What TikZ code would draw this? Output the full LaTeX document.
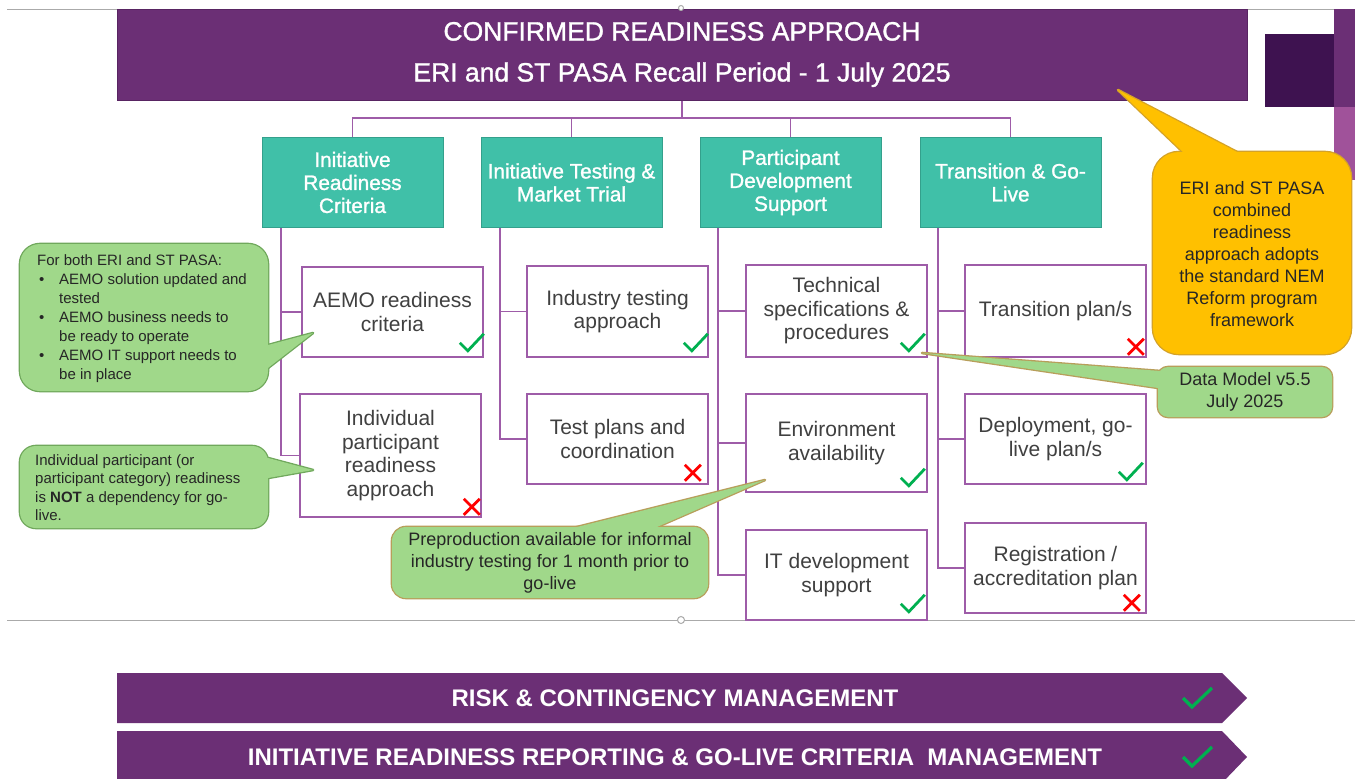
\documentclass[tikz,border=0pt]{standalone}
\usepackage{fontspec}
\setmainfont{Liberation Sans}
\newfontfamily\heavyfont[FakeBold=1.2]{Liberation Sans}
\usetikzlibrary{calc}
\definecolor{hdrpurple}{RGB}{107,47,117}
\definecolor{hdredge}{RGB}{88,36,98}
\definecolor{darkpurple}{RGB}{62,18,80}
\definecolor{lightpurple}{RGB}{160,82,154}
\definecolor{tealbox}{RGB}{64,192,168}
\definecolor{tealedge}{RGB}{52,160,140}
\definecolor{boxline}{RGB}{158,92,168}
\definecolor{calgreen}{RGB}{160,216,138}
\definecolor{caledge}{RGB}{112,168,92}
\definecolor{caltan}{RGB}{184,158,90}
\definecolor{calyellow}{RGB}{255,192,0}
\definecolor{yedge}{RGB}{212,162,40}
\definecolor{okgreen}{RGB}{0,176,80}
\definecolor{txtgray}{RGB}{64,64,64}
\definecolor{txtdark}{RGB}{38,38,38}
\definecolor{handlegray}{RGB}{170,170,170}
\newcommand{\myfs}[2]{\fontsize{#1}{#2}\selectfont}
\tikzset{
  hdrbox/.style={fill=hdrpurple, draw=hdredge, line width=1, minimum width=1130, minimum height=91, inner sep=0, text=white, align=center, font=\heavyfont\myfs{26.5}{41}},
  catbox/.style={fill=tealbox, draw=tealedge, line width=1, minimum width=181, minimum height=90, inner sep=0, text=white, align=center, font=\heavyfont\myfs{20.8}{23}},
  itembox/.style={fill=white, draw=boxline, line width=1.6, minimum width=181, inner sep=0, text=txtgray, align=center, font=\myfs{21}{23.5}},
  link/.style={draw=boxline, line width=1.5},
  handle/.style={draw=handlegray, line width=1},
  gedge/.style={draw=caledge, line width=2.6, line join=round},
  tedge/.style={draw=caltan, line width=2.6, line join=round},
  yedgestyle/.style={draw=yedge, line width=2.6, line join=round},
  calltext/.style={inner sep=0, text=txtdark, align=center, font=\myfs{18}{22}},
  smalltext/.style={inner sep=0, text=txtdark, align=left, anchor=west},
  bantext/.style={inner sep=0, text=white, font=\bfseries\myfs{24}{28}},
  okmark/.pic={\draw[okgreen, line width=2.8] (-12,0) -- (-4,8) -- (12,-9);},
  nomark/.pic={\draw[red, line width=2.8] (-8,-8) -- (8,8) (-8,8) -- (8,-8);},
  bigok/.pic={\draw[okgreen, line width=3.2] (-14,0) -- (-5,9) -- (15,-10);}
}
\begin{document}
\begin{tikzpicture}[x=1pt,y=-1pt]
\useasboundingbox (0,0) rectangle (1361,779);
\fill[white] (0,0) rectangle (1361,779);

% guide lines
\draw[handle] (7,9) -- (1335,9);
\draw[handle] (7,620) -- (1355,620);

% header
\node[hdrbox] (hdr) at (682,54.5) {\raisebox{2pt}{CONFIRMED READINESS APPROACH}\\\raisebox{2pt}{ERI and ST PASA Recall Period - 1 July 2025}};
\draw[handle, fill=white] (681,8) circle (2.5);

% right decoration
\fill[darkpurple] (1265,34) rectangle (1334,107);
\fill[hdrpurple] (1334,9) rectangle (1355,107);
\fill[lightpurple] (1334,107) rectangle (1355,180);

% categories
\node[catbox] (h1) at (352.5,182.5) {Initiative\\Readiness\\Criteria};
\node[catbox] (h2) at (571.5,182.5) {Initiative Testing \&\\Market Trial};
\node[catbox] (h3) at (790.5,182.5) {Participant\\Development\\Support};
\node[catbox] (h4) at (1010.5,182.5) {Transition \& Go-\\Live};

% items
\node[itembox, minimum height=90] (a1) at (392.5,312) {AEMO readiness\\criteria};
\node[itembox, minimum height=123] (a2) at (390.5,455.5) {Individual\\participant\\readiness\\approach};
\node[itembox, minimum height=91] (b1) at (617.5,311.5) {Industry testing\\approach};
\node[itembox, minimum height=90] (b2) at (617.5,439) {Test plans and\\coordination};
\node[itembox, minimum height=92] (c1) at (836.5,311) {Technical\\specifications \&\\procedures};
\node[itembox, minimum height=98] (c2) at (836.5,443) {Environment\\availability};
\node[itembox, minimum height=90] (c3) at (836.5,575) {IT development\\support};
\node[itembox, minimum height=92] (d1) at (1055.5,311) {Transition plan/s};
\node[itembox, minimum height=90] (d2) at (1055.5,439) {Deployment, go-\\live plan/s};
\node[itembox, minimum height=90] (d3) at (1055.5,568) {Registration /\\accreditation plan};

% tree connectors
\coordinate (bus) at (682,118);
\draw[link] (hdr.south) -- (bus);
\draw[link] (h1.north) -- (h1.north |- bus) -- (h4.north |- bus) -- (h4.north);
\draw[link] (h2.north) -- (h2.north |- bus);
\draw[link] (h3.north) -- (h3.north |- bus);
\coordinate (v1) at (281,0);
\coordinate (v2) at (500,0);
\coordinate (v3) at (718,0);
\coordinate (v4) at (938,0);
\draw[link] (h1.south -| v1) |- (a2.west);
\draw[link] (v1 |- a1.west) -- (a1.west);
\draw[link] (h2.south -| v2) |- (b2.west);
\draw[link] (v2 |- b1.west) -- (b1.west);
\draw[link] (h3.south -| v3) |- (c3.west);
\draw[link] (v3 |- c1.west) -- (c1.west);
\draw[link] (v3 |- c2.west) -- (c2.west);
\draw[link] (h4.south -| v4) |- (d3.west);
\draw[link] (v4 |- d1.west) -- (d1.west);
\draw[link] (v4 |- d2.west) -- (d2.west);

% status marks
\pic at ($(a1.south east)+(-12,-15)$) {okmark};
\pic at ($(b1.south east)+(-13,-15)$) {okmark};
\pic at ($(c1.south east)+(-15,-15)$) {okmark};
\pic at ($(c2.south east)+(-15,-15)$) {okmark};
\pic at ($(c3.south east)+(-15,-17)$) {okmark};
\pic at ($(d2.south east)+(-16,-13)$) {okmark};
\pic at ($(a2.south east)+(-10,-11)$) {nomark};
\pic at ($(b2.south east)+(-16,-12)$) {nomark};
\pic at ($(d1.south east)+(-11,-11)$) {nomark};
\pic at ($(d3.south east)+(-15,-11)$) {nomark};

% callout A (AEMO criteria)
\draw[gedge, rounded corners=20] (20,244) rectangle (268,391);
\draw[gedge] (258,347.7) -- (313,333) -- (258,375.8) -- cycle;
\fill[calgreen, rounded corners=20] (20,244) rectangle (268,391);
\fill[calgreen] (258,347.7) -- (313,333) -- (258,375.8) -- cycle;
\node[smalltext, font=\myfs{15}{19}] (ta) at (37,319) {For both ERI and ST PASA:\\
\hspace*{2pt}\makebox[20pt][l]{•}AEMO solution updated and\\
\hspace*{22pt}tested\\
\hspace*{2pt}\makebox[20pt][l]{•}AEMO business needs to\\
\hspace*{22pt}be ready to operate\\
\hspace*{2pt}\makebox[20pt][l]{•}AEMO IT support needs to\\
\hspace*{22pt}be in place};

% callout B (individual participant)
\draw[gedge, rounded corners=16] (20,446) rectangle (268,528);
\draw[gedge] (258,455.3) -- (313,470) -- (258,479.8) -- cycle;
\fill[calgreen, rounded corners=16] (20,446) rectangle (268,528);
\fill[calgreen] (258,455.3) -- (313,470) -- (258,479.8) -- cycle;
\node[smalltext, font=\myfs{15}{18.4}] (tb) at (35,487.5) {Individual participant (or\\participant category) readiness\\is \textbf{NOT} a dependency for go-\\live.};

% callout C (preproduction)
\draw[tedge, rounded corners=14] (392,527) rectangle (708,598);
\draw[tedge] (537,537) -- (765,480) -- (634,537) -- cycle;
\fill[calgreen, rounded corners=14] (392,527) rectangle (708,598);
\fill[calgreen] (537,537) -- (765,480) -- (634,537) -- cycle;
\node[calltext] (tc) at (550,562.5) {Preproduction available for informal\\industry testing for 1 month prior to\\go-live};

% callout D (data model)
\draw[tedge, rounded corners=10] (1158,367) rectangle (1332,417);
\draw[tedge] (1175,372.1) -- (922,353) -- (1175,390.5) -- cycle;
\fill[calgreen, rounded corners=10] (1158,367) rectangle (1332,417);
\fill[calgreen] (1175,372.1) -- (922,353) -- (1175,390.5) -- cycle;
\node[calltext] (td) at (1245,392) {Data Model v5.5\\July 2025};

% callout E (yellow)
\draw[yedgestyle, rounded corners=26] (1153,152) rectangle (1351,354);
\draw[yedgestyle] (1196.6,165) -- (1118,90) -- (1262,165) -- cycle;
\fill[calyellow, rounded corners=26] (1153,152) rectangle (1351,354);
\fill[calyellow] (1196.6,165) -- (1118,90) -- (1262,165) -- cycle;
\node[calltext] (te) at (1252,254) {ERI and ST PASA\\combined\\readiness\\approach adopts\\the standard NEM\\Reform program\\framework};

% separator handle
\draw[handle, fill=white] (681,620) circle (3.5);

% bottom banners
\fill[hdrpurple] (117,673) -- (1222,673) -- (1247,698) -- (1222,723) -- (117,723) -- cycle;
\node[bantext] (r1) at (675,698) {RISK \& CONTINGENCY MANAGEMENT};
\pic at (1197,698) {bigok};
\fill[hdrpurple] (117,731) -- (1222,731) -- (1247,757) -- (1222,783) -- (117,783) -- cycle;
\node[bantext] (r2) at (675,757) {INITIATIVE READINESS REPORTING \& GO-LIVE CRITERIA\ \ MANAGEMENT};
\pic at (1197,757) {bigok};
\end{tikzpicture}
\end{document}
